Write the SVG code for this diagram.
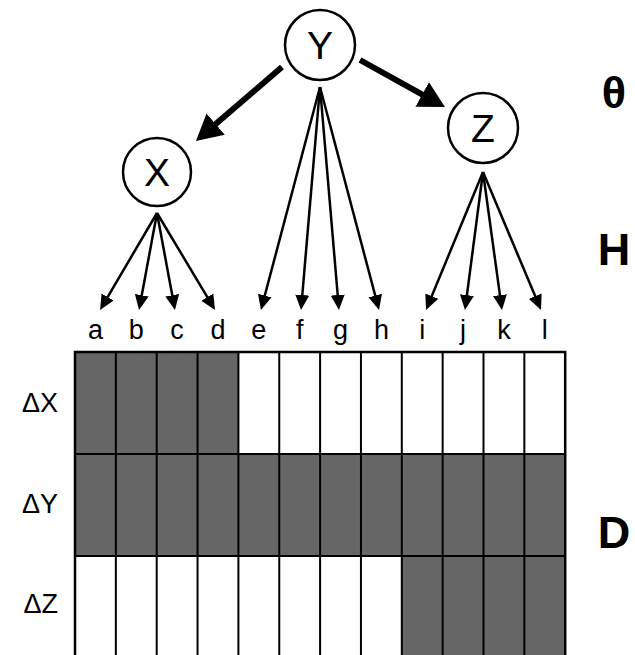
<svg xmlns="http://www.w3.org/2000/svg" width="635" height="655" viewBox="0 0 635 655">
<style>
.node circle{fill:#fff;stroke:#000;stroke-width:2.5}
.node text{font-family:"Liberation Sans",Arial,sans-serif;font-size:39px;text-anchor:middle;fill:#000}
.lbl{font-family:"Liberation Sans",Arial,sans-serif;font-size:27px;text-anchor:middle;fill:#000}
.rl{font-family:"Liberation Sans",Arial,sans-serif;font-size:27px;text-anchor:end;fill:#000}
.big{font-family:"Liberation Sans",Arial,sans-serif;font-size:45px;font-weight:bold;text-anchor:middle;fill:#000}
.thin{stroke:#000;stroke-width:2.5;fill:none;marker-end:url(#ah)}
.thick{stroke:#000;stroke-width:6;fill:none;marker-end:url(#ahb)}
.sh{fill:#666}
.gl{stroke:#000;stroke-width:2}
</style>
<defs>
<marker id="ah" markerUnits="userSpaceOnUse" markerWidth="16" markerHeight="16" viewBox="0 0 16 16" refX="7" refY="7.5" orient="auto">
<path d="M0,0.5 L15,7.5 L0,14.5 z" fill="#000"/>
</marker>
<marker id="ahb" markerUnits="userSpaceOnUse" markerWidth="28" markerHeight="30" viewBox="0 0 28 30" refX="8" refY="15" orient="auto">
<path d="M0,1 L26,15 L0,29 z" fill="#000"/>
</marker>
</defs>
<rect width="635" height="655" fill="#fff"/>

<g id="grid">
<rect x="75" y="352" width="490.2" height="310" fill="#fff"/>
<rect class="sh" x="75" y="352" width="163.4" height="102"/>
<rect class="sh" x="75" y="454" width="490.2" height="102"/>
<rect class="sh" x="401.8" y="556" width="163.4" height="110"/>
<g class="gl">
<line x1="115.85" y1="352" x2="115.85" y2="655"/>
<line x1="156.7" y1="352" x2="156.7" y2="655"/>
<line x1="197.55" y1="352" x2="197.55" y2="655"/>
<line x1="238.4" y1="352" x2="238.4" y2="655"/>
<line x1="279.25" y1="352" x2="279.25" y2="655"/>
<line x1="320.1" y1="352" x2="320.1" y2="655"/>
<line x1="360.95" y1="352" x2="360.95" y2="655"/>
<line x1="401.8" y1="352" x2="401.8" y2="655"/>
<line x1="442.65" y1="352" x2="442.65" y2="655"/>
<line x1="483.5" y1="352" x2="483.5" y2="655"/>
<line x1="524.35" y1="352" x2="524.35" y2="655"/>
<line x1="75" y1="454" x2="565.2" y2="454"/>
<line x1="75" y1="556" x2="565.2" y2="556"/>
</g>
<rect x="75" y="352" width="490.2" height="310" fill="none" stroke="#000" stroke-width="2.5"/>
</g>

<g id="row-labels">
<text class="rl" x="58" y="412">ΔX</text>
<text class="rl" x="58" y="513">ΔY</text>
<text class="rl" x="58" y="613">ΔZ</text>
</g>

<g id="leaf-labels">
<text class="lbl" x="95.4" y="339">a</text>
<text class="lbl" x="136.3" y="339">b</text>
<text class="lbl" x="177.1" y="339">c</text>
<text class="lbl" x="218" y="339">d</text>
<text class="lbl" x="258.8" y="339">e</text>
<text class="lbl" x="299.7" y="339">f</text>
<text class="lbl" x="340.5" y="339">g</text>
<text class="lbl" x="381.4" y="339">h</text>
<text class="lbl" x="422.2" y="339">i</text>
<text class="lbl" x="463.1" y="339">j</text>
<text class="lbl" x="503.9" y="339">k</text>
<text class="lbl" x="544.8" y="339">l</text>
</g>

<g id="connectors">
<line class="thick" x1="282" y1="67" x2="209.6" y2="129.3"/>
<line class="thick" x1="360" y1="60" x2="429.2" y2="98.3"/>
<line class="thin" x1="157" y1="213" x2="104.1" y2="303.1"/>
<line class="thin" x1="157" y1="213" x2="140.5" y2="302.1"/>
<line class="thin" x1="157" y1="213" x2="173.5" y2="302.1"/>
<line class="thin" x1="157" y1="213" x2="210.9" y2="303.1"/>
<line class="thin" x1="320" y1="87" x2="263" y2="302.3"/>
<line class="thin" x1="320" y1="87" x2="301.7" y2="302"/>
<line class="thin" x1="320" y1="87" x2="338.3" y2="302"/>
<line class="thin" x1="320" y1="87" x2="377" y2="302.3"/>
<line class="thin" x1="483" y1="172" x2="429.1" y2="302.6"/>
<line class="thin" x1="483" y1="172" x2="466" y2="302.1"/>
<line class="thin" x1="483" y1="172" x2="500.9" y2="302.1"/>
<line class="thin" x1="483" y1="172" x2="537.9" y2="302.6"/>
</g>

<g id="node-Y" class="node">
<circle cx="320" cy="45" r="35"/>
<text x="320" y="59">Y</text>
</g>
<g id="node-X" class="node">
<circle cx="157" cy="172" r="34"/>
<text x="157" y="186">X</text>
</g>
<g id="node-Z" class="node">
<circle cx="483" cy="128" r="35"/>
<text x="483" y="142">Z</text>
</g>

<g id="side-labels">
<text class="big" x="614" y="108">θ</text>
<text class="big" x="614" y="265">H</text>
<text class="big" x="614" y="548">D</text>
</g>
</svg>
